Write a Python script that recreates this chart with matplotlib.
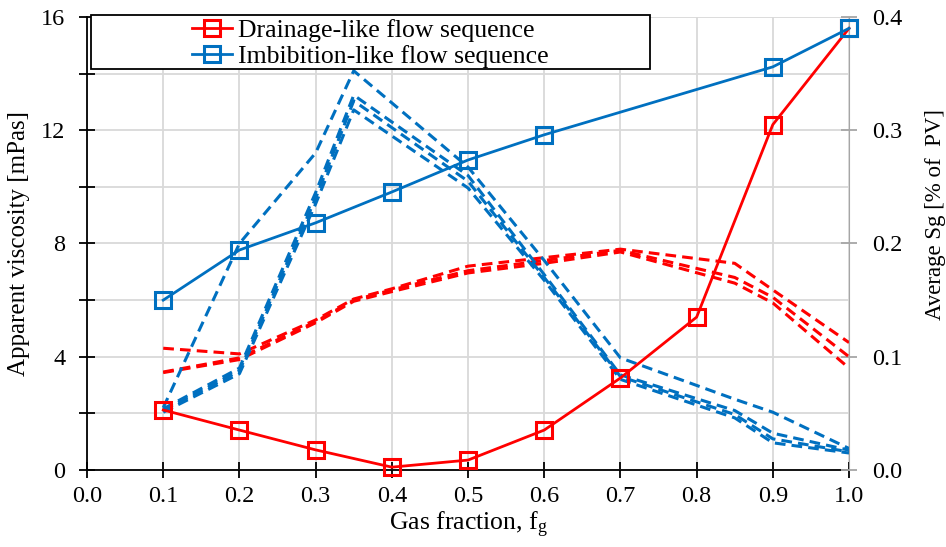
import matplotlib
matplotlib.use("Agg")
import matplotlib.pyplot as plt
from matplotlib.patches import Rectangle
from matplotlib.ticker import MultipleLocator

plt.rcParams['font.family'] = ['Liberation Serif', 'DejaVu Serif']
plt.rcParams['mathtext.fontset'] = 'custom'
plt.rcParams['mathtext.rm'] = 'Liberation Serif'
plt.rcParams['mathtext.it'] = 'Liberation Serif'

# apparent viscosity, left axis [mPas]
fg = [0.1, 0.2, 0.3, 0.4, 0.5, 0.6, 0.7, 0.8, 0.9, 1.0]
visc_drainage = [2.12, 1.41, 0.71, 0.10, 0.35, 1.41, 3.25, 5.40, 12.2, 15.6]
fg_imb = [0.1, 0.2, 0.3, 0.4, 0.5, 0.6, 0.9, 1.0]
visc_imbibition = [6.0, 7.77, 8.73, 9.82, 10.95, 11.84, 14.24, 15.6]

# average gas saturation, right axis (individual runs)
fg_sg_dr = [0.1, 0.2, 0.3, 0.35, 0.4, 0.5, 0.6, 0.7, 0.85, 0.9, 1.0]
sg_drainage = [
    [0.1075, 0.1025, 0.1325, 0.151, 0.160, 0.180, 0.1875, 0.195, 0.1825, 0.159, 0.1125],
    [0.0865, 0.099, 0.131, 0.150, 0.159, 0.176, 0.185, 0.194, 0.170, 0.1525, 0.100],
    [0.0860, 0.0975, 0.130, 0.149, 0.1575, 0.174, 0.1825, 0.1925, 0.165, 0.1475, 0.090],
]
fg_sg_imb = [0.1, 0.2, 0.3, 0.35, 0.5, 0.6, 0.7, 0.85, 0.9, 1.0]
sg_imbibition = [
    [0.055, 0.200, 0.280, 0.3525, 0.2675, 0.185, 0.099, 0.0625, 0.051, 0.019],
    [0.054, 0.090, 0.245, 0.331, 0.260, 0.1725, 0.084, 0.0525, 0.0325, 0.0175],
    [0.0525, 0.0875, 0.240, 0.326, 0.255, 0.170, 0.0825, 0.049, 0.0275, 0.016],
    [0.051, 0.085, 0.235, 0.318, 0.249, 0.1675, 0.080, 0.046, 0.024, 0.015],
]

RED = '#FF0000'
BLUE = '#0070C0'
GRID = '#D9D9D9'

fig = plt.figure(figsize=(9.46, 5.47), dpi=100)
ax = fig.add_axes([0.092, 0.1408, 0.8055, 0.8281])
ax2 = ax.twinx()

ax.set_xlim(0, 1.0)
ax.set_ylim(0, 16)
ax2.set_ylim(0, 0.4)

ax.xaxis.set_major_locator(MultipleLocator(0.1))
ax.yaxis.set_major_locator(MultipleLocator(4))
ax.yaxis.set_minor_locator(MultipleLocator(2))
ax2.yaxis.set_major_locator(MultipleLocator(0.1))
ax.xaxis.set_major_formatter(plt.FuncFormatter(lambda v, p: f'{v:.1f}'))
ax2.yaxis.set_major_formatter(plt.FuncFormatter(lambda v, p: f'{v:.1f}'))

ax.grid(True, which='both', color=GRID, lw=1.3)
ax.set_axisbelow(True)

ax.spines['top'].set_visible(False)
ax2.spines['top'].set_visible(False)
ax.spines['right'].set_visible(False)
ax2.spines['left'].set_visible(False)
ax2.spines['bottom'].set_visible(False)
ax2.spines['right'].set_color('#A6A6A6')
ax.spines['left'].set_linewidth(1.3)
ax.spines['bottom'].set_linewidth(1.3)

ax.tick_params(axis='x', which='major', direction='inout', length=11, width=1.3,
               labelsize=17.5, pad=6)
ax.tick_params(axis='y', which='both', direction='inout', length=11, width=1.3,
               labelsize=17.5, pad=10)
ax2.tick_params(axis='y', direction='inout', length=11, width=1.3, color='#A6A6A6',
                labelsize=17.5, pad=11)

# saturation curves (dashed)
for sg in sg_drainage:
    ax2.plot(fg_sg_dr, sg, color=RED, lw=2.2, ls=(0, (3.5, 2)), zorder=2)
for sg in sg_imbibition:
    ax2.plot(fg_sg_imb, sg, color=BLUE, lw=2.2, ls=(0, (3.5, 2)), zorder=2)

# viscosity curves (solid with markers) drawn on top
ax3 = ax.twinx()
ax3.set_ylim(0, 16)
ax3.axis('off')
l1, = ax3.plot(fg, visc_drainage, color=RED, lw=2, marker='s', ms=11,
               mfc='none', mew=2.2, label='Drainage-like flow sequence', clip_on=False)
l2, = ax3.plot(fg_imb, visc_imbibition, color=BLUE, lw=2, marker='s', ms=11,
               mfc='none', mew=2.2, label='Imbibition-like flow sequence', clip_on=False)

ax.set_xlabel('Gas fraction, f$_\\mathregular{g}$', fontsize=18.5, labelpad=2)
ax.set_ylabel('Apparent viscosity [mPas]', fontsize=18, labelpad=8)
ax2.set_ylabel('Average Sg [% of  PV]', fontsize=16.5, labelpad=16)
ax2.yaxis.label.set_y(0.565)

# legend box
box = Rectangle((0.0052, 0.885), 0.734, 0.119, transform=ax.transAxes,
                facecolor='white', edgecolor='black', lw=1.3, zorder=5, clip_on=False)
ax3.add_patch(box)
leg = ax3.legend(handles=[l1, l2], loc='upper left', bbox_to_anchor=(0.138, 0.996),
                 frameon=False, fontsize=18.5, handlelength=1.55, handletextpad=0.25,
                 labelspacing=0.14, borderaxespad=0, borderpad=0)
leg.set_zorder(6)

fig.savefig('out.png', dpi=100)
